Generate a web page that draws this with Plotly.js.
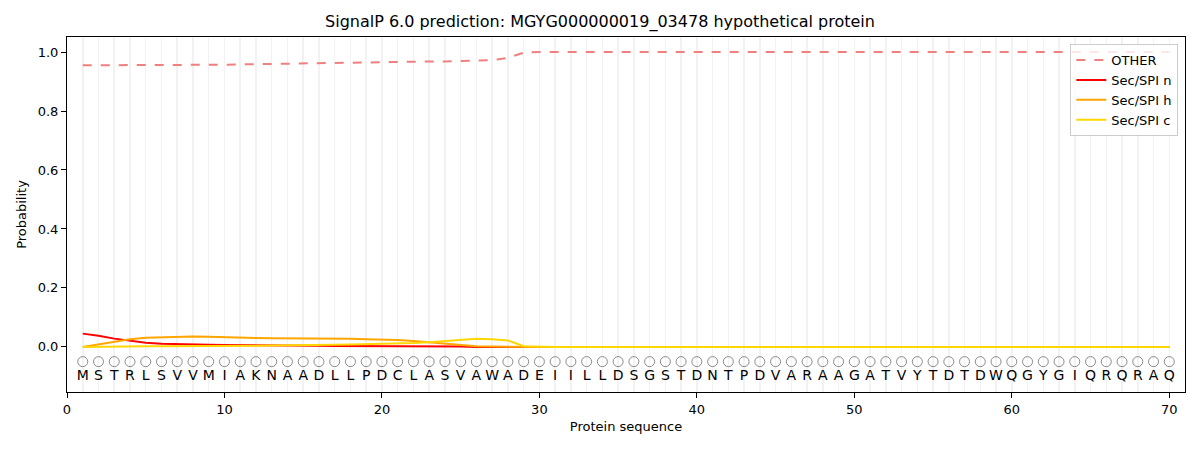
<!DOCTYPE html>
<html>
<head>
<meta charset="utf-8">
<script src="https://cdn.plot.ly/plotly-3.0.1.min.js"></script>
<style>
  body { margin: 0; background: #fff; }
  #plot { width: 1200px; height: 450px; }
</style>
</head>
<body>
<div id="plot"></div>
<script>
// residues of MGYG000000019_03478, one per position
const residues = "MSTRLSVVMIAKNAADLLPDCLASVAWADEIILLDSGSTDNTPDVARAAGATVYTDTDWQGYGIQRQRAQ".split("");
const positions = residues.map((_, i) => i + 1);

// per-position probabilities (positions 1..29, then flat)
const otherHead = [0.955, 0.955, 0.955, 0.955, 0.955, 0.955, 0.955, 0.955, 0.956, 0.957,
                   0.958, 0.959, 0.960, 0.961, 0.962, 0.963, 0.964, 0.965, 0.966, 0.966,
                   0.967, 0.967, 0.968, 0.968, 0.969, 0.970, 0.973, 0.980, 0.998];
const secNHead = [0.045, 0.038, 0.028, 0.020, 0.014, 0.011, 0.009, 0.008, 0.007, 0.006,
                  0.006, 0.005, 0.005, 0.004, 0.004, 0.004, 0.003, 0.003, 0.003, 0.003,
                  0.002, 0.002, 0.002, 0.001, 0.001, 0.000, 0.000, 0.000, 0.000];
const secHHead = [0.000, 0.008, 0.018, 0.026, 0.031, 0.033, 0.035, 0.035, 0.034, 0.032,
                  0.031, 0.030, 0.029, 0.029, 0.028, 0.028, 0.028, 0.028, 0.026, 0.025,
                  0.023, 0.020, 0.016, 0.012, 0.007, 0.002, 0.001, 0.000, 0.000];
const secCHead = [0.000, 0.001, 0.001, 0.001, 0.002, 0.002, 0.002, 0.002, 0.003, 0.003,
                  0.004, 0.004, 0.005, 0.005, 0.006, 0.006, 0.007, 0.008, 0.009, 0.010,
                  0.011, 0.013, 0.016, 0.020, 0.024, 0.028, 0.026, 0.022, 0.002];

function pad(head, value) {
    return positions.map((_, i) => i < head.length ? head[i] : value);
}

const other = pad(otherHead, 1.0);
const secN = pad(secNHead, 0.0);
const secH = pad(secHHead, 0.0);
const secC = pad(secCHead, 0.0);

const circleY = positions.map(() => -0.05);
const letterY = positions.map(() => -0.1);

const font = "DejaVu Sans, sans-serif";

const data = [
    {
        x: positions, y: circleY, mode: "markers", showlegend: false, hoverinfo: "skip",
        marker: { symbol: "circle-open", size: 10, color: "#8a8a8a", line: { width: 1, color: "#8a8a8a" } }
    },
    {
        x: positions, y: letterY, mode: "text", text: residues, showlegend: false, hoverinfo: "skip",
        textfont: { family: font, size: 14, color: "#000" }
    },
    { x: positions, y: other, mode: "lines", name: "OTHER", line: { color: "#f08080", width: 2, dash: "dash" } },
    { x: positions, y: secN, mode: "lines", name: "Sec/SPI n", line: { color: "#ff0000", width: 2 } },
    { x: positions, y: secH, mode: "lines", name: "Sec/SPI h", line: { color: "#ffa500", width: 2 } },
    { x: positions, y: secC, mode: "lines", name: "Sec/SPI c", line: { color: "#ffd700", width: 2 } }
];

const layout = {
    width: 1200, height: 450,
    paper_bgcolor: "#fff", plot_bgcolor: "#fff",
    margin: { l: 67, r: 15, t: 37, b: 58 },
    font: { family: font, size: 13, color: "#000" },
    title: { text: "SignalP 6.0 prediction: MGYG000000019_03478 hypothetical protein",
             font: { family: font, size: 16, color: "#000" }, x: 0.5, xanchor: "center", y: 0.965 },
    xaxis: {
        range: [0, 71], tickmode: "array", tickvals: [0, 10, 20, 30, 40, 50, 60, 70],
        ticks: "outside", ticklen: 5, tickcolor: "#000",
        showline: true, mirror: true, linecolor: "#000", linewidth: 1,
        showgrid: false, zeroline: false,
        minor: { dtick: 1, tick0: 0, showgrid: true, gridcolor: "#f2f2f2", gridwidth: 1.5, ticks: "" },
        title: { text: "Protein sequence", font: { family: font, size: 13 }, standoff: 6 }
    },
    yaxis: {
        range: [-0.153, 1.051], tickvals: [0, 0.2, 0.4, 0.6, 0.8, 1.0], tickformat: ".1f",
        ticks: "outside", ticklen: 5, tickcolor: "#000",
        showline: true, mirror: true, linecolor: "#000", linewidth: 1,
        showgrid: false, zeroline: false,
        title: { text: "Probability", font: { family: font, size: 13 }, standoff: 8 }
    },
    legend: {
        x: 0.994, y: 0.98, xanchor: "right", yanchor: "top",
        bgcolor: "rgba(255,255,255,0.8)", bordercolor: "#cccccc", borderwidth: 1,
        font: { family: font, size: 13 }
    },
    showlegend: true
};

Plotly.newPlot("plot", data, layout, { displayModeBar: false, staticPlot: true });
</script>
</body>
</html>
